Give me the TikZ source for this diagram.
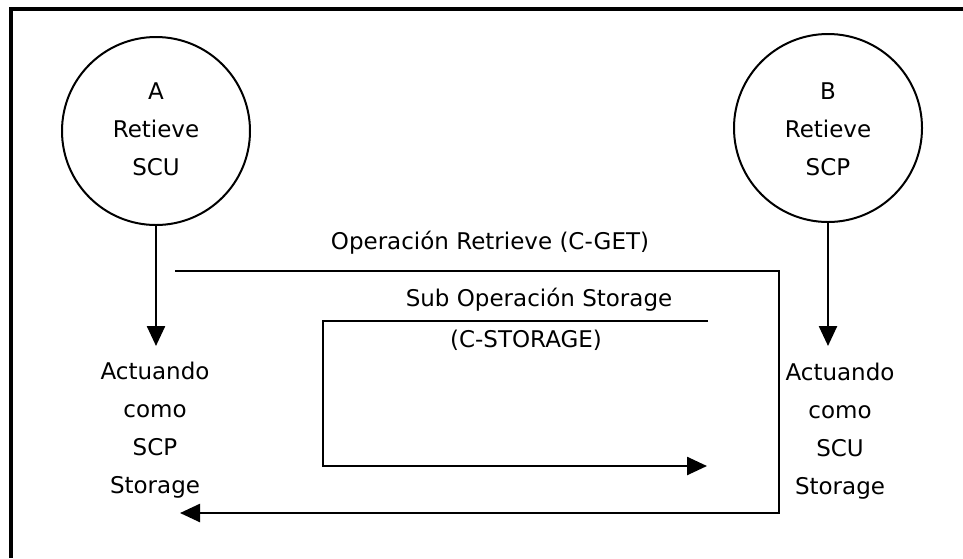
\documentclass[tikz,border=0pt]{standalone}
\usepackage{fontspec}
\setmainfont{DejaVu Sans}
\usetikzlibrary{arrows.meta}
\begin{document}
\begin{tikzpicture}[x=1pt,y=-1pt,
  every node/.style={font=\fontsize{23}{38}\selectfont, align=center, inner sep=0pt},
  role/.style={draw, circle, line width=2pt, minimum size=188pt},
  flow/.style={line width=2.5pt, -{Triangle[width=18pt,length=20pt]}},
  frame/.style={line width=3.5pt}]
  \useasboundingbox (0,0) rectangle (963,558);
  % open frame: left and top edges only
  \draw[frame] (11,558) -- (11,9) -- (963,9);

  % the two application entities
  \node[role] (A) at (156,131) {};
  \node (Atxt) at (156,129) {A\\Retieve\\SCU};
  \node[role] (B) at (828,128) {};
  \node (Btxt) at (828,129) {B\\Retieve\\SCP};

  % roles taken during the storage sub-operation
  \node (Arole) at (155,430) {Actuando\\como\\SCP\\Storage};
  \node (Brole) at (840,431) {Actuando\\como\\SCU\\Storage};

  \coordinate (Atip) at (A.south |- 0,346);
  \coordinate (Btip) at (B.south |- 0,346);
  \draw[flow] (A.south) -- (Atip);
  \draw[flow] (B.south) -- (Btip);

  % C-GET retrieve operation
  \node (get) at (490,243) {Operación Retrieve (C-GET)};
  \coordinate (g0) at (175,271);
  \coordinate (g1) at (779,271);
  \coordinate (g2) at (779,513);
  \coordinate (g3) at (180,513);
  \draw[flow] (g0) -- (g1) -- (g2) -- (g3);

  % C-STORE sub-operation
  \node (sub) at (539,300) {Sub Operación Storage};
  \node (cst) at (526,340) {(C-STORAGE)};
  \coordinate (s0) at (708,321);
  \coordinate (s1) at (323,321);
  \coordinate (s2) at (323,466);
  \coordinate (s3) at (707,466);
  \draw[flow] (s0) -- (s1) -- (s2) -- (s3);
\end{tikzpicture}
\end{document}
